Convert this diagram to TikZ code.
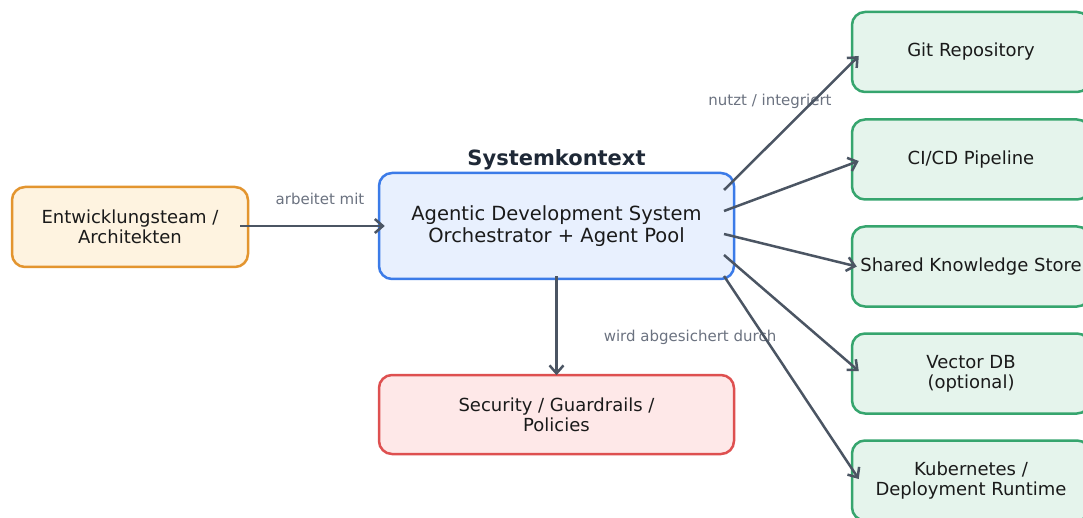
\documentclass[tikz,border=0pt]{standalone}
\usepackage{fontspec}
\setmainfont{DejaVu Sans}
\usetikzlibrary{arrows.meta,calc}

\definecolor{txt}{HTML}{1A1A1A}
\definecolor{titlecol}{HTML}{1F2937}
\definecolor{labelcol}{HTML}{6B7280}
\definecolor{arrowcol}{HTML}{4B5563}
\definecolor{orangeline}{HTML}{E3952F}
\definecolor{orangefill}{HTML}{FEF3E0}
\definecolor{blueline}{HTML}{3B7BE8}
\definecolor{bluefill}{HTML}{E8F0FE}
\definecolor{redline}{HTML}{DE5050}
\definecolor{redfill}{HTML}{FEE8E8}
\definecolor{greenline}{HTML}{36A56E}
\definecolor{greenfill}{HTML}{E5F4EC}

\tikzset{
  box/.style={draw, rounded corners=13pt, line width=2.5pt, align=center,
    text=txt, font=\fontsize{18}{20}\selectfont, inner sep=0pt},
  actor/.style={box, draw=orangeline, fill=orangefill,
    minimum width=236pt, minimum height=80pt},
  core/.style={box, draw=blueline, fill=bluefill,
    minimum width=355pt, minimum height=106pt,
    font=\fontsize{19.5}{22}\selectfont},
  guard/.style={box, draw=redline, fill=redfill,
    minimum width=355pt, minimum height=79pt},
  ext/.style={box, draw=greenline, fill=greenfill,
    minimum width=238pt, minimum height=80pt},
  flow/.style={draw=arrowcol, line width=2.5pt,
    -{Straight Barb[length=8pt,width=14pt]}},
  tag/.style={text=labelcol, font=\fontsize{15}{17}\selectfont, inner sep=0pt},
}

\begin{document}
\begin{tikzpicture}[x=1pt, y=-1pt]
\useasboundingbox (0,0) rectangle (1083,518);

% boxes
\node[actor] (team) at (130,227) {Entwicklungsteam /\\Architekten};
\node[core] (sys) at (556.5,226) {Agentic Development System\\Orchestrator + Agent Pool};
\node[font=\bfseries\fontsize{21}{24}\selectfont, text=titlecol, inner sep=0pt]
  (title) at (556.5,159.5) {Systemkontext};
\node[guard] (sec) at (556.5,414.5) {Security / Guardrails /\\Policies};

\node[ext] (git)  at (971,52)    {Git Repository};
\node[ext] (cicd) at (971,159.5) {CI/CD Pipeline};
\node[ext] (ks)   at (971,266.5) {Shared Knowledge Store};
\node[ext] (vdb)  at (971,373.5) {Vector DB\\(optional)};
\node[ext] (k8s)  at (971,480.5) {Kubernetes /\\Deployment Runtime};

% edge labels (drawn under the arrows)
\node[tag] (l1) at (320,199) {arbeitet mit};
\node[tag] (l2) at (770,101) {nutzt / integriert};
\node[tag] (l3) at (690,337) {wird abgesichert durch};

% anchor points for connectors
\coordinate (teamout) at (240,226);
\coordinate (sysin)   at ($(sys.west)+(7,0)$);
\coordinate (sysdown) at ($(sys.south)+(0,-4)$);
\coordinate (secin)   at ($(sec.north)+(0,1.5)$);
\coordinate (o1) at (724,190);
\coordinate (o2) at (724,211);
\coordinate (o3) at (724,234);
\coordinate (o4) at (724,255);
\coordinate (o5) at (724,276);
\coordinate (i1) at ($(git.west)+(8,4)$);
\coordinate (i2) at ($(cicd.west)+(8,1.5)$);
\coordinate (i3) at ($(ks.west)+(6,0)$);
\coordinate (i4) at ($(vdb.west)+(8,-2.5)$);
\coordinate (i5) at ($(k8s.west)+(8,-1.5)$);

% connectors
\draw[flow] (teamout) -- (sysin);
\draw[flow] (sysdown) -- (secin);
\draw[flow] (o1) -- (i1);
\draw[flow] (o2) -- (i2);
\draw[flow] (o3) -- (i3);
\draw[flow] (o4) -- (i4);
\draw[flow] (o5) -- (i5);
\end{tikzpicture}
\end{document}
